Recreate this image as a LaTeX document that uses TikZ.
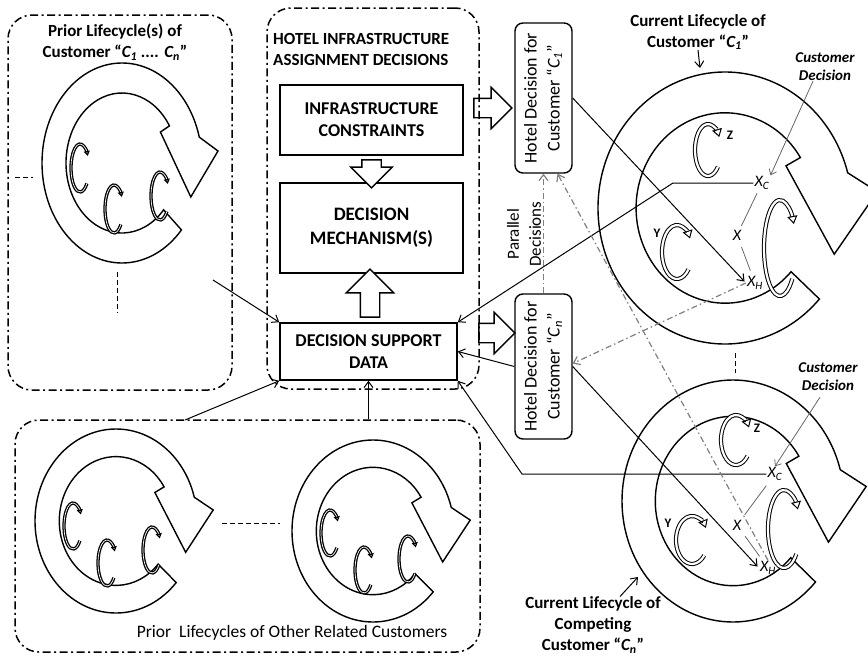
\documentclass[tikz,border=0pt]{standalone}
\usepackage{fontspec}
\setmainfont{Carlito}
\usepackage{graphicx}
\usetikzlibrary{arrows.meta, positioning, shapes.arrows, calc}

% ring shaped lifecycle arrow: centre x, centre y, x radius, y radius
\newcommand\lifecycle[4]{%
  \begin{scope}[shift={(#1,#2)}, x=#3pt, y=#4pt]
    \draw[ring] (-42:1) arc[start angle=-42, end angle=-345, x radius=#3pt, y radius=#4pt]
      -- (1.2,0.12) -- (0.86,-0.34) -- (0.48,0.31) -- (32:0.7)
      arc[start angle=32, end angle=318, x radius=0.7*#3pt, y radius=0.7*#4pt] -- cycle;
  \end{scope}}
% small curly arrow: style, x, y, x radius, y radius
\newcommand\swirl[5]{%
  \draw[#1] ($(#2,#3)+(-40:#4pt and #5pt)$)
    arc[start angle=-40, end angle=-330, x radius=#4pt, y radius=#5pt];}

\begin{document}
\begin{tikzpicture}[x=1pt, y=-1pt,
    groupbox/.style={draw, line width=1.5pt, rounded corners=24pt,
        dash pattern=on 8pt off 3.5pt on 2pt off 3.5pt},
    grouptitle/.style={font=\bfseries\fontsize{17}{21}\selectfont, align=center, inner sep=0pt},
    procbox/.style={draw, line width=1.6pt, minimum width=183pt, align=center,
        font=\bfseries\fontsize{18}{22}\selectfont},
    hdbox/.style={draw, line width=1.4pt, rounded corners=8pt, minimum width=57pt,
        inner sep=0pt, font=\fontsize{18}{23}\selectfont},
    blockarrow/.style={single arrow, draw, line width=1.4pt, inner xsep=0pt,
        inner ysep=9pt, single arrow head extend=11pt, single arrow head indent=0pt},
    ring/.style={line width=1.4pt, fill=white},
    smallc/.style={double=white, double distance=0.7pt, line width=1.3pt,
        -{Triangle[open, length=5pt, width=6pt]}},
    bigc/.style={double=white, double distance=2.2pt, line width=1pt,
        -{Triangle[open, length=8pt, width=10pt]}},
    conn/.style={line width=1pt, -{Straight Barb[length=6pt, width=9pt]}},
    grayconn/.style={gray, line width=1.2pt, dash pattern=on 6pt off 3pt on 1.5pt off 3pt,
        -{Straight Barb[length=6pt, width=9pt]}},
    thinconn/.style={gray!80!black, line width=0.8pt},
    dashline/.style={line width=1pt, dash pattern=on 5pt off 3pt},
    varlbl/.style={font=\itshape\fontsize{16}{16}\selectfont, inner sep=1pt},
    swlbl/.style={font=\bfseries\fontsize{13}{13}\selectfont, inner sep=1pt},
    decisionlbl/.style={font=\bfseries\itshape\fontsize{15}{18}\selectfont, align=center, inner sep=0pt},
]
\useasboundingbox (0,0) rectangle (868,656);

% groups
\node[groupbox, minimum width=224pt, minimum height=375pt] (prior) at (120,202.5) {};
\node[groupbox, minimum width=212pt, minimum height=381pt] (hotel) at (373,198.5) {};
\node[groupbox, minimum width=465pt, minimum height=232pt] (others) at (247.5,536) {};

% lifecycles
\lifecycle{122}{163}{80}{100}
\lifecycle{116}{521}{81}{92}
\lifecycle{373}{531}{81}{91}
\lifecycle{725}{208}{127}{136}
\lifecycle{733}{501}{111}{121}

\swirl{smallc}{80}{168}{9}{24}
\swirl{smallc}{114}{209}{9}{24}
\swirl{smallc}{160}{196}{9}{24}
\swirl{smallc}{73}{526}{9}{23}
\swirl{smallc}{107}{563}{9}{23}
\swirl{smallc}{152}{550}{9}{23}
\swirl{smallc}{330}{533}{9}{23}
\swirl{smallc}{364}{570}{9}{23}
\swirl{smallc}{408}{559}{9}{23}

\swirl{bigc}{708}{150}{13}{26}
\swirl{bigc}{677}{252}{15}{27}
\swirl{bigc}{780}{248}{16}{48}
\swirl{bigc}{736}{440}{15}{25}
\swirl{bigc}{692}{540}{16}{24}
\swirl{bigc}{784}{529}{16}{39}

\draw[dashline] (15,177) -- (33,177);
\draw[dashline] (117,272) -- (117,313);
\draw[dashline] (222,523) -- (280,523);
\draw[dashline] (735,353) -- (735,373);

% titles
\node[grouptitle] (priorlbl) at (115,42) {Prior Lifecycle(s) of\\Customer “\textit{C\textsubscript{1} .... C\textsubscript{n}}”};
\node[grouptitle, align=left, anchor=west] (hotellbl) at (273,49) {HOTEL INFRASTRUCTURE\\ASSIGNMENT DECISIONS};
\node[font=\fontsize{17.5}{20}\selectfont] (otherslbl) at (292,633) {Prior~ Lifecycles of Other Related Customers};
\node[grouptitle] (lc1) at (698,32) {Current Lifecycle of\\Customer “\textit{C\textsubscript{1}}”};
\node[grouptitle] (lcn) at (593,625) {Current Lifecycle of\\Competing\\Customer “\textit{C\textsubscript{n}}”};
\node[decisionlbl] (cd1) at (825,67) {Customer\\Decision};
\node[decisionlbl] (cdn) at (828,377) {Customer\\Decision};

% hotel boxes
\node[procbox, minimum height=70pt] (cons) at (371.5,120) {INFRASTRUCTURE\\CONSTRAINTS};
\node[procbox, minimum height=90pt, font=\bfseries\fontsize{19}{24}\selectfont] (mech) at (371.5,228) {DECISION\\MECHANISM(S)};
\node[procbox, minimum width=177pt, minimum height=57pt] (dsd) at (368.5,351.5) {DECISION SUPPORT\\DATA};

\node[blockarrow, fill=white, rotate=-90, minimum height=28pt] (a1) at ($(cons.south)!0.5!(mech.north)$) {};
\node[blockarrow, fill=white, rotate=90, minimum height=48pt, single arrow head extend=14pt] (a2) at ($(dsd.north)!0.5!(mech.south)$) {};
\node[blockarrow, minimum height=38pt] (a3) at (488,108) {};
\node[blockarrow, minimum height=36pt] (a4) at (492,333) {};

% hotel decisions
\node[hdbox, minimum height=150pt] (hd1) at (543.5,98)
  {\rotatebox{90}{\begin{tabular}{@{}c@{}}Hotel Decision for\\Customer “\textit{C\textsubscript{1}}”\end{tabular}}};
\node[hdbox, minimum height=145pt] (hdn) at (543.5,366.5)
  {\rotatebox{90}{\begin{tabular}{@{}c@{}}Hotel Decision for\\Customer “\textit{C\textsubscript{n}}”\end{tabular}}};
\node[rotate=90, align=center, font=\fontsize{17}{22}\selectfont] (par) at (524,234) {Parallel\\Decisions};

% decision points
\node[varlbl] (xc1) at (762,183) {X\textsubscript{C}};
\node[varlbl] (x1) at (737,235) {X};
\node[varlbl] (xh1) at (755,283) {X\textsubscript{H}};
\node[varlbl] (xcn) at (775,474) {X\textsubscript{C}};
\node[varlbl] (xn) at (737,525) {X};
\node[varlbl] (xhn) at (768,568) {X\textsubscript{H}};
\node[swlbl] (z1) at (730,135) {Z};
\node[swlbl] (y1) at (657,233) {Y};
\node[swlbl] (zn) at (757,428) {Z};
\node[swlbl] (yn) at (668,523) {Y};

\coordinate (p1) at (213,280);
\coordinate (o1) at (185,420);
\coordinate (b1) at (673,183);
\coordinate (bn) at (522,474);
\coordinate (lc1tip) at (700,68);
\coordinate (lcntip) at (638,577);

% connectors
\draw[conn] (p1) -- (dsd.north west);
\draw[conn] (o1) -- (dsd.south west);
\draw[conn] (dsd.south |- others.north) -- (dsd.south);
\draw[conn] (xc1.west) -- (b1) -- (dsd.north east);
\draw[conn] (xcn.west) -- (bn) -- (dsd.south east);
\draw[conn] (hdn.west) -- (dsd.east);
\draw[conn, shorten >=2pt] (hd1.east) -- (xh1.west);
\draw[conn, shorten >=2pt] (hdn.east) -- (xhn.west);
\draw[grayconn] (xh1.west) -- ($(hdn.east)+(0,-3)$);
\draw[grayconn] (xhn.north) -- ($(hd1.south)+(14,0)$);
\draw[grayconn] (hdn.north) -- (hd1.south);
\draw[thinconn, shorten <=3pt, shorten >=3pt] (xc1) -- (x1);
\draw[thinconn, shorten <=6pt, shorten >=5pt] (x1) -- (xh1);
\draw[thinconn, shorten <=5pt, shorten >=5pt] (xcn) -- (xn);
\draw[thinconn, shorten <=6pt, shorten >=5pt] (xn) -- (xhn);
\draw[thinconn, -{Straight Barb[length=5pt, width=8pt]}] ($(cd1.south)+(-12,0)$) -- (xc1.north east);
\draw[thinconn, -{Straight Barb[length=5pt, width=8pt]}] ($(cdn.south)+(-8,6)$) -- (xcn.north);
\draw[conn] (lc1.south) -- (lc1tip);
\draw[conn] ($(lcn.north)+(27,0)$) -- (lcntip);
\end{tikzpicture}
\end{document}
